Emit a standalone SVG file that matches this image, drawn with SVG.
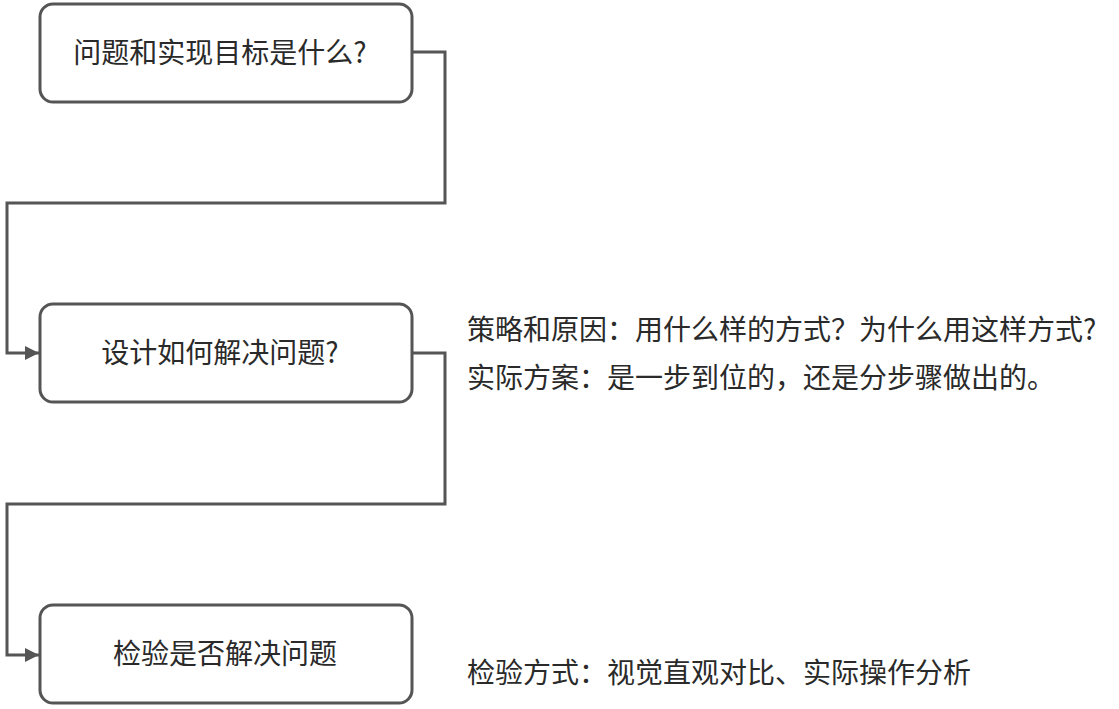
<svg xmlns="http://www.w3.org/2000/svg" width="1119" height="709" viewBox="0 0 1119 709">
<style>
.box{fill:#fff;stroke:#555;stroke-width:3}
.lbl{font-family:"Noto Sans CJK SC","Noto Sans",sans-serif;font-size:28px;fill:#2a2a2a}
.con{fill:none;stroke:#555;stroke-width:3}
</style>
<defs>
<marker id="arr" viewBox="0 0 10 10" refX="10" refY="5" markerWidth="4.8" markerHeight="4.8" orient="auto" markerUnits="strokeWidth">
<path d="M0,0 L10,5 L0,10 z" fill="#555"/>
</marker>
</defs>
<rect width="1119" height="709" fill="#fff"/>
<g id="connectors">
<path class="con" d="M412,52 H445 V203 H7 V353 H39" marker-end="url(#arr)"/>
<path class="con" d="M412,353 H445 V504 H7 V655 H39" marker-end="url(#arr)"/>
</g>
<g id="n1">
<rect class="box" x="40" y="4" width="372" height="98" rx="13"/>
<text class="lbl" x="220" y="63" text-anchor="middle">问题和实现目标是什么?</text>
</g>
<g id="n2">
<rect class="box" x="40" y="304" width="372" height="98" rx="13"/>
<text class="lbl" x="220" y="363" text-anchor="middle">设计如何解决问题?</text>
</g>
<g id="n3">
<rect class="box" x="40" y="605" width="372" height="98" rx="13"/>
<text class="lbl" x="225" y="664" text-anchor="middle">检验是否解决问题</text>
</g>
<g id="notes">
<text class="lbl" x="467" y="340">策略和原因：用什么样的方式？为什么用这样方式?</text>
<text class="lbl" x="467" y="388">实际方案：是一步到位的，还是分步骤做出的。</text>
<text class="lbl" x="467" y="683">检验方式：视觉直观对比、实际操作分析</text>
</g>
</svg>
